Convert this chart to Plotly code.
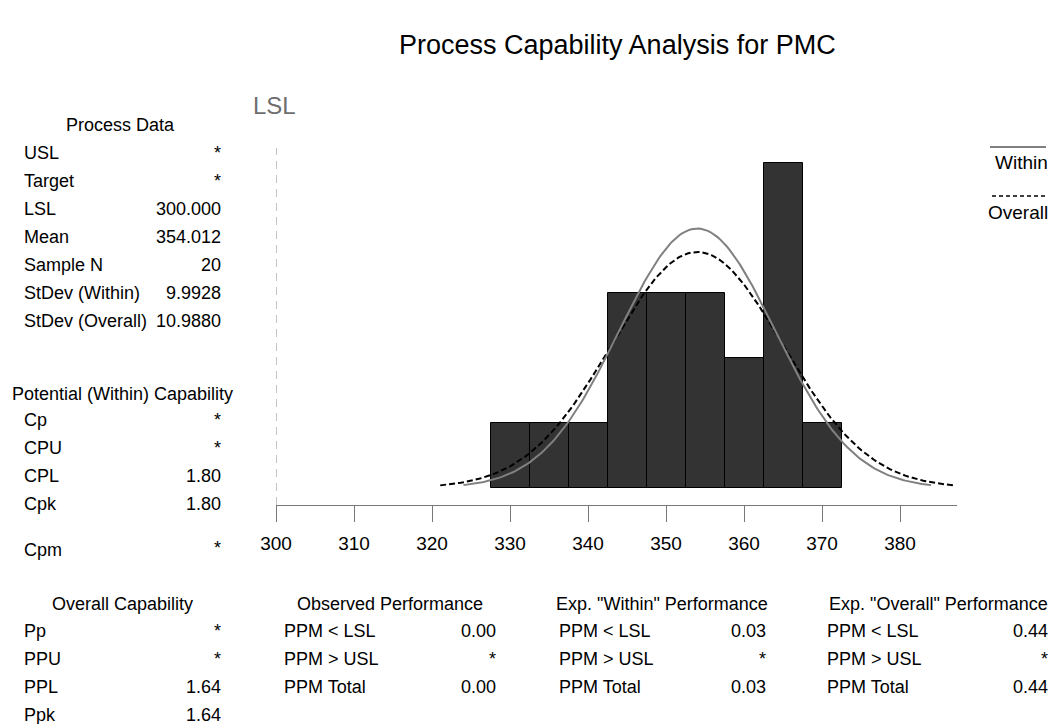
import numpy as np
import plotly.graph_objects as go

# ---------------- data ----------------
bin_centers = [330, 335, 340, 345, 350, 355, 360, 365, 370]
bin_counts = [1, 1, 1, 3, 3, 3, 2, 5, 1]
bin_width = 5
lsl = 300.0
mean = 354.012
sample_n = 20
sd_within = 9.9928
sd_overall = 10.9880

process_data_labels = ["USL", "Target", "LSL", "Mean", "Sample N", "StDev (Within)", "StDev (Overall)"]
process_data_values = ["*", "*", "300.000", "354.012", "20", "9.9928", "10.9880"]
within_cap_labels = ["Cp", "CPU", "CPL", "Cpk"]
within_cap_values = ["*", "*", "1.80", "1.80"]
cpm_label, cpm_value = "Cpm", "*"
overall_cap_labels = ["Pp", "PPU", "PPL", "Ppk"]
overall_cap_values = ["*", "*", "1.64", "1.64"]
perf_labels = ["PPM < LSL", "PPM > USL", "PPM Total"]
observed_values = ["0.00", "*", "0.00"]
exp_within_values = ["0.03", "*", "0.03"]
exp_overall_values = ["0.44", "*", "0.44"]
x_ticks = [300, 310, 320, 330, 340, 350, 360, 370, 380]

# ---------------- layout geometry ----------------
W, H = 1056, 724
L, R, T, B = 276, 957, 148, 505
FONT = "Liberation Sans, Arial, sans-serif"


def px(x):
    return (x - L) / (R - L)


def py(y):
    return (B - y) / (B - T)


fig = go.Figure()

fig.add_trace(go.Bar(
    x=bin_centers, y=bin_counts, width=bin_width,
    marker=dict(color="#333333", line=dict(color="#000000", width=1)),
    showlegend=False, hoverinfo="x+y"))


def normal_curve(mu, sd):
    xs = np.linspace(mu - 3 * sd, mu + 3 * sd, 200)
    ys = sample_n * bin_width * np.exp(-0.5 * ((xs - mu) / sd) ** 2) / (sd * np.sqrt(2 * np.pi))
    return xs, ys


xo, yo = normal_curve(mean, sd_overall)
fig.add_trace(go.Scatter(x=xo, y=yo, mode="lines",
                         line=dict(color="#000000", width=2, dash="6px,3px"),
                         showlegend=False))
xw, yw = normal_curve(mean, sd_within)
fig.add_trace(go.Scatter(x=xw, y=yw, mode="lines",
                         line=dict(color="#808080", width=2),
                         showlegend=False))

# LSL line
fig.add_shape(type="line", xref="x", yref="paper", x0=lsl, x1=lsl, y0=0, y1=1,
              line=dict(color="#999999", width=1.2, dash="8px,6px"))

annotations = []


def txt(text, x, y, anchor="left", size=18, color="#000000"):
    annotations.append(dict(text=text, x=px(x), y=py(y), xref="paper", yref="paper",
                            xanchor=anchor, yanchor="middle", showarrow=False,
                            font=dict(family=FONT, size=size, color=color)))


txt("LSL", 251, 105, size=24, color="#6e6e6e")
txt("Process Capability Analysis for PMC", 617, 45, anchor="center", size=27)

# Process data
txt("Process Data", 120, 125, anchor="center")
for i, (lab, val) in enumerate(zip(process_data_labels, process_data_values)):
    y = 153 + i * 28
    txt(lab, 22, y)
    txt(val, 223, y, anchor="right")

# Potential capability
txt("Potential (Within) Capability", 122, 394, anchor="center")
for i, (lab, val) in enumerate(zip(within_cap_labels, within_cap_values)):
    y = 420 + i * 28
    txt(lab, 22, y)
    txt(val, 223, y, anchor="right")
txt(cpm_label, 22, 550)
txt(cpm_value, 223, 548, anchor="right")

# Overall capability
txt("Overall Capability", 122, 604, anchor="center")
for i, (lab, val) in enumerate(zip(overall_cap_labels, overall_cap_values)):
    y = 631 + i * 28
    txt(lab, 22, y)
    txt(val, 223, y, anchor="right")

# Performance blocks
blocks = [
    ("Observed Performance", 390, 282, 498, observed_values),
    ('Exp. "Within" Performance', 662, 557, 768, exp_within_values),
    ('Exp. "Overall" Performance', 938, 825, 1050, exp_overall_values),
]
for head, hc, lx, rx, vals in blocks:
    txt(head, hc, 604, anchor="center")
    for i, (lab, val) in enumerate(zip(perf_labels, vals)):
        y = 631 + i * 28
        txt(lab, lx, y)
        txt(val, rx, y, anchor="right")

# Legend
txt("Within", 1050, 162, anchor="right", size=19)
txt("Overall", 1050, 212, anchor="right", size=19)
fig.add_shape(type="line", xref="paper", yref="paper", x0=px(990), x1=px(1046),
              y0=py(147), y1=py(147), line=dict(color="#808080", width=2))
fig.add_shape(type="line", xref="paper", yref="paper", x0=px(992), x1=px(1045),
              y0=py(196), y1=py(196), line=dict(color="#000000", width=1.5, dash="4px,3px"))

count_px = 65.0
y0 = -(B - 488) / count_px
y1 = (488 - T) / count_px

fig.update_layout(
    width=W, height=H,
    margin=dict(l=L, r=W - R, t=T, b=H - B, pad=0),
    paper_bgcolor="white", plot_bgcolor="white",
    bargap=0,
    font=dict(family=FONT, color="#000000"),
    annotations=annotations,
    xaxis=dict(range=[300, 300 + (R - L) / 7.8], tickvals=x_ticks, ticktext=[str(t) for t in x_ticks],
               showline=True, linecolor="#777777", linewidth=1.2, ticks="outside", ticklen=16,
               tickcolor="#777777", tickwidth=1.2, showgrid=False, zeroline=False,
               ticklabelstandoff=5,
               tickfont=dict(size=19, family=FONT, color="#000000")),
    yaxis=dict(range=[y0, y1], visible=False, showgrid=False, zeroline=False),
)

fig.write_html("out.html")
